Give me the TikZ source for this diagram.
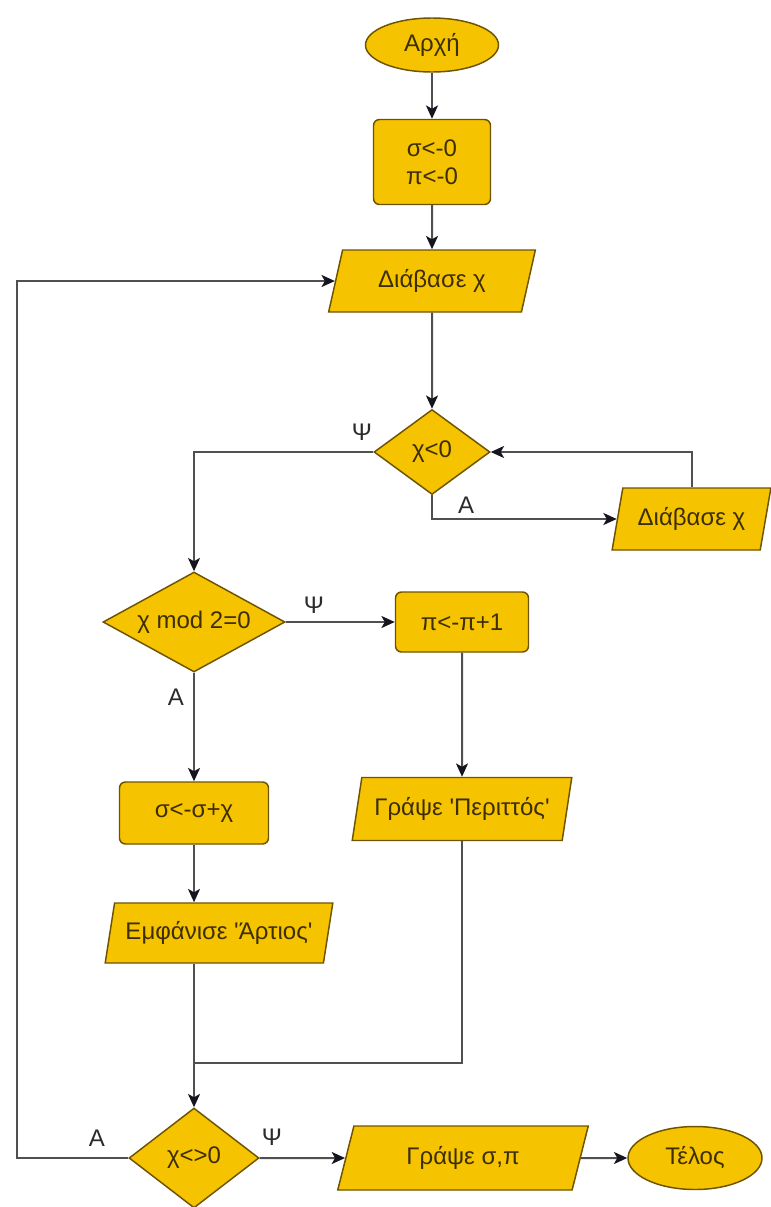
\documentclass[tikz,border=0pt]{standalone}
\usepackage{fontspec}
\setmainfont{Liberation Sans}
\usetikzlibrary{shapes.geometric,arrows.meta}
\definecolor{fillY}{HTML}{F5C300}
\definecolor{edgeB}{HTML}{6E5300}
\definecolor{txtB}{HTML}{3D2E00}
\definecolor{lineG}{HTML}{505050}
\definecolor{tipK}{HTML}{15151F}
\definecolor{lblK}{HTML}{2B2B2B}
\begin{document}
\begin{tikzpicture}[x=0.75pt,y=-0.75pt,
  base/.style={draw=edgeB, fill=fillY, line width=1.1pt, text=txtB,
    font=\fontsize{18}{21}\selectfont, inner sep=0pt},
  term/.style={base, ellipse},
  proc/.style={base, rectangle, rounded corners=4.5pt, align=center},
  io/.style={base, trapezium, trapezium left angle=70, trapezium right angle=110,
    trapezium stretches=true},
  cond/.style={base, diamond},
  txt/.style={text=txtB, font=\fontsize{18}{21}\selectfont, inner sep=0pt},
  lbl/.style={text=lblK, font=\fontsize{18}{21}\selectfont, inner sep=0pt},
  flow/.style={draw=lineG, line width=1.5pt,
    -{Stealth[length=10pt,width=9pt,inset=2.5pt,color=tipK]}},
  link/.style={draw=lineG, line width=1.5pt}
]
\useasboundingbox (0,0) rectangle (771,1207);

% nodes
\node[term, minimum width=99.75pt, minimum height=40.5pt] (start) at (432,45) {Αρχή};
\node[proc, minimum width=87.75pt, minimum height=63.75pt] (init) at (432,162) {σ<-0\\π<-0};
\node[io, minimum width=155.25pt, minimum height=46.5pt] (r1) at (432,281) {Διάβασε χ};
\node[cond, minimum width=87pt, minimum height=63.75pt] (d1) at (432,452) {};
\node[txt] (d1t) at (d1) {χ<0};
\node[io, minimum width=119.25pt, minimum height=46.5pt] (r2) at (691.5,519) {Διάβασε χ};
\node[cond, minimum width=136.5pt, minimum height=75pt] (d2) at (194,622) {};
\node[txt] (d2t) at (d2) {χ mod 2=0};
\node[proc, minimum width=99.75pt, minimum height=45pt] (pi) at (462,622) {π<-π+1};
\node[io, minimum width=165pt, minimum height=47.25pt] (odd) at (462,809) {Γράψε \textquotesingle Περιττός\textquotesingle};
\node[proc, minimum width=111.75pt, minimum height=46.5pt] (sig) at (194,813) {σ<-σ+χ};
\node[io, minimum width=171pt, minimum height=45pt] (even) at (219,933) {Εμφάνισε \textquotesingle Άρτιος\textquotesingle};
\node[cond, minimum width=97.5pt, minimum height=75pt] (d3) at (194,1158) {};
\node[txt] (d3t) at (d3) {χ<>0};
\node[io, minimum width=189pt, minimum height=48pt] (out) at (463,1158) {Γράψε σ,π};
\node[term, minimum width=100.5pt, minimum height=47.25pt] (end) at (695,1158) {Τέλος};

% branch labels
\node[lbl] (l1) at (362,432) {Ψ};
\node[lbl] (l2) at (466,505) {Α};
\node[lbl] (l3) at (314,605) {Ψ};
\node[lbl] (l4) at (176,697) {Α};
\node[lbl] (l5) at (97,1138) {Α};
\node[lbl] (l6) at (272,1137) {Ψ};

\coordinate (j) at (194,1063);
\coordinate (lx) at (17,0);

% connectors
\draw[flow] (start) -- (init);
\draw[flow] (init) -- (r1);
\draw[flow] (r1) -- (d1);
\draw[flow] (d1.west) -| (d2.north);
\draw[flow] (d1.south) |- (r2.west);
\draw[flow] (r2.north) |- (d1.east);
\draw[flow] (d2.east) -- (pi.west);
\draw[flow] (d2.south) -- (sig.north);
\draw[flow] (pi.south) -- (odd.north);
\draw[flow] (sig.south) -- (sig.south |- even.north);
\draw[flow] (d3.north |- even.south) -- (d3.north);
\draw[link] (odd.south) |- (j);
\draw[flow] (d3.west) -| (lx |- r1.west) -- (r1.west);
\draw[flow] (d3.east) -- (out.west);
\draw[flow] (out.east) -- (end.west);
\end{tikzpicture}
\end{document}
